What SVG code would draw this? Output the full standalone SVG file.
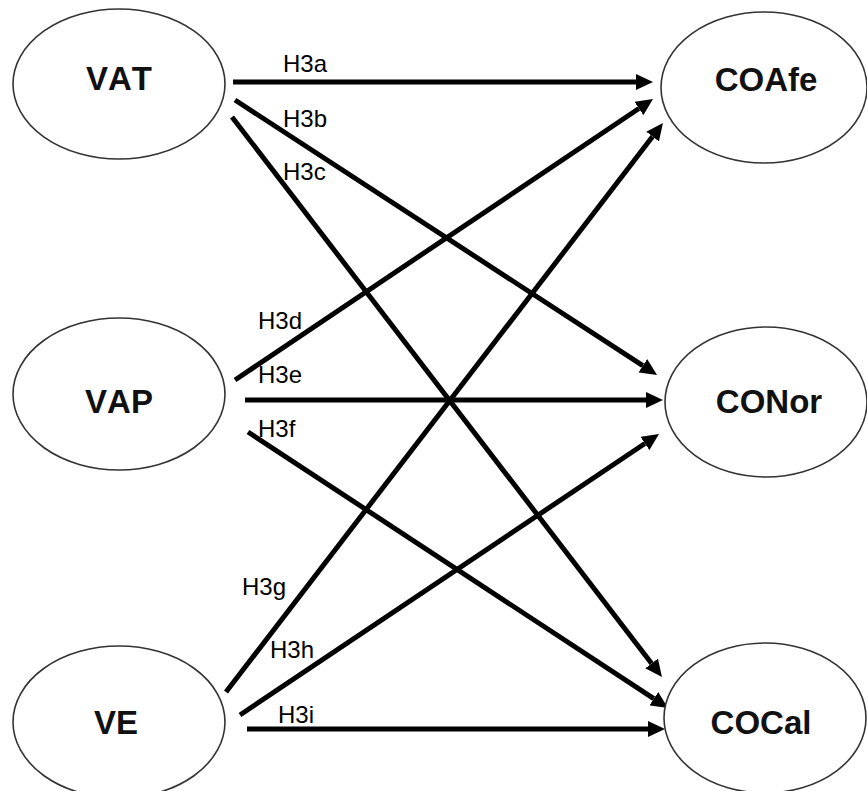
<svg xmlns="http://www.w3.org/2000/svg" width="867" height="791" viewBox="0 0 867 791">
  <style>
    .node ellipse { fill: #ffffff; stroke: #333333; stroke-width: 1.6; }
    .node text { font-family: "Liberation Sans", Arial, sans-serif; font-weight: bold; font-size: 33px; font-kerning: none; fill: #111111; text-anchor: middle; }
    .edges line { stroke: #000000; stroke-width: 5; marker-end: url(#head); }
    .labels text { font-family: "Liberation Sans", Arial, sans-serif; font-size: 24px; font-kerning: none; fill: #000000; }
  </style>
  <defs>
    <marker id="head" markerUnits="userSpaceOnUse" markerWidth="17" markerHeight="16" viewBox="0 0 17 16" refX="0" refY="8" orient="auto">
      <path d="M0,0 L17,8 L0,16 z" fill="#000000"/>
    </marker>
  </defs>
  <rect width="867" height="791" fill="#ffffff"/>

  <!-- connectors -->
  <g id="connectors" class="edges">
    <line id="e-h3a" x1="233" y1="82" x2="636" y2="82"/>
    <line id="e-h3b" x1="235" y1="100" x2="642.8" y2="365.7"/>
    <line id="e-h3c" x1="232" y1="117" x2="651.6" y2="663.5"/>
    <line id="e-h3d" x1="235" y1="380" x2="638.9" y2="108.5"/>
    <line id="e-h3e" x1="245" y1="400" x2="646" y2="400"/>
    <line id="e-h3f" x1="248" y1="432" x2="653.8" y2="698.7"/>
    <line id="e-h3g" x1="226" y1="692" x2="652.6" y2="136.5"/>
    <line id="e-h3h" x1="240" y1="715" x2="644.9" y2="443.5"/>
    <line id="e-h3i" x1="247" y1="729" x2="648" y2="729"/>
  </g>

  <!-- path labels -->
  <g id="edge-labels" class="labels">
    <text x="283" y="72">H3a</text>
    <text x="283" y="127">H3b</text>
    <text x="283" y="180">H3c</text>
    <text x="258" y="329">H3d</text>
    <text x="258" y="383">H3e</text>
    <text x="258" y="437">H3f</text>
    <text x="242" y="595">H3g</text>
    <text x="270" y="658">H3h</text>
    <text x="278" y="723">H3i</text>
  </g>

  <!-- predictors -->
  <g id="node-vat" class="node">
    <ellipse cx="119" cy="84" rx="106" ry="75"/>
    <text x="119" y="90">VAT</text>
  </g>
  <g id="node-vap" class="node">
    <ellipse cx="119" cy="394" rx="106" ry="76"/>
    <text x="119" y="413">VAP</text>
  </g>
  <g id="node-ve" class="node">
    <ellipse cx="119" cy="722" rx="106" ry="76"/>
    <text x="116" y="734">VE</text>
  </g>

  <!-- outcomes -->
  <g id="node-coafe" class="node">
    <ellipse cx="764" cy="87.5" rx="103" ry="75.5"/>
    <text x="766" y="91">COAfe</text>
  </g>
  <g id="node-conor" class="node">
    <ellipse cx="766" cy="402" rx="101" ry="75"/>
    <text x="769" y="413">CONor</text>
  </g>
  <g id="node-cocal" class="node">
    <ellipse cx="765" cy="718" rx="101" ry="75"/>
    <text x="761" y="734">COCal</text>
  </g>
</svg>
